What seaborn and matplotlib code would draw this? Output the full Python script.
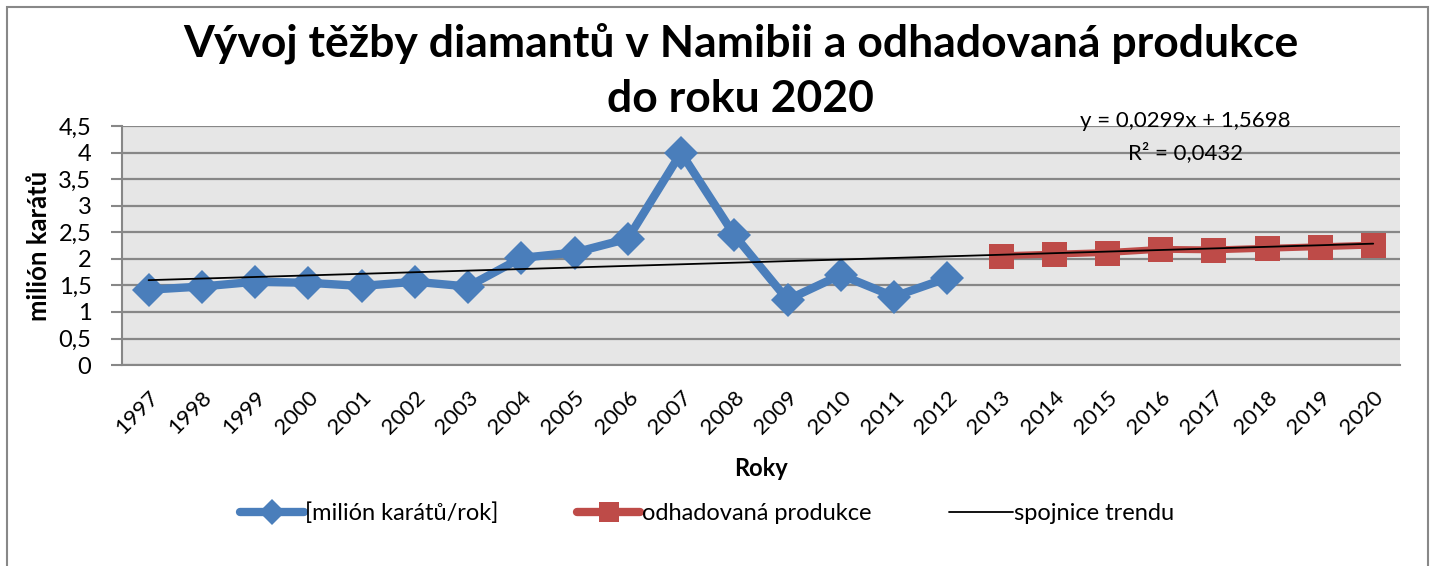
import numpy as np
import pandas as pd
import matplotlib
matplotlib.use("Agg")
import matplotlib.pyplot as plt
from matplotlib.patches import Rectangle
from matplotlib.lines import Line2D
import seaborn as sns

years = list(range(1997, 2021))
real_years = list(range(1997, 2013))
real_vals = [1.42, 1.48, 1.57, 1.55, 1.49, 1.57, 1.48, 2.02, 2.12, 2.38,
             4.0, 2.45, 1.23, 1.70, 1.29, 1.64]
est_years = list(range(2013, 2021))
est_vals = [2.06, 2.09, 2.12, 2.18, 2.17, 2.20, 2.23, 2.26]
trend_slope = 0.0299
trend_icpt = 1.5698
trend_r2 = 0.0432

sns.set_theme(style="white")
plt.rcParams['font.family'] = ['Lato', 'DejaVu Sans']
plt.rcParams['text.color'] = 'black'
plt.rcParams['axes.labelcolor'] = 'black'

blue = "#4a7ebb"
red = "#be4b48"

def cz(v):
    return f"{v:.4f}".replace(".", ",")

df_real = pd.DataFrame({"x": [years.index(y) for y in real_years], "v": real_vals})
df_est = pd.DataFrame({"x": [years.index(y) for y in est_years], "v": est_vals})
trend_x = np.arange(len(years))
df_trend = pd.DataFrame({"x": trend_x, "v": trend_slope * (trend_x + 1) + trend_icpt})

fig = plt.figure(figsize=(14.35, 5.66), dpi=100)
fig.patches.append(Rectangle((0.005, -0.02), 0.99, 1.008, transform=fig.transFigure,
                             fill=False, edgecolor="#888888", lw=1.5))
ax = fig.add_axes([0.085, 0.355, 0.8905, 0.422])
ax.set_facecolor("#e6e6e6")

sns.lineplot(data=df_real, x="x", y="v", ax=ax, color=blue, lw=6, marker="D",
             markersize=17, markeredgewidth=0)
sns.lineplot(data=df_est, x="x", y="v", ax=ax, color=red, lw=5, marker="s",
             markersize=18, markeredgewidth=0)
sns.lineplot(data=df_trend, x="x", y="v", ax=ax, color="black", lw=1.3)

ax.set_xlim(-0.5, len(years) - 0.5)
ax.set_ylim(0, 4.5)
yt = np.arange(0, 4.51, 0.5)
ax.set_yticks(yt)
ax.set_yticklabels([("%g" % t).replace(".", ",") for t in yt], fontsize=17)
ax.yaxis.grid(True, color="#878787", lw=1.6)
ax.set_axisbelow(True)
ax.set_xticks(range(len(years)))
ax.set_xticklabels([str(y) for y in years], rotation=45, ha="right",
                   rotation_mode="anchor", fontsize=16)
ax.set_xticks(np.arange(-0.5, len(years), 1), minor=True)
ax.tick_params(axis="x", which="major", length=0, pad=16, labelcolor="black")
ax.tick_params(axis="x", which="minor", length=6, color="#878787", width=1.5, direction="out")
ax.tick_params(axis="y", length=8, color="#878787", width=1.5, direction="out", left=True,
               pad=14, labelcolor="black")
for s in ["top", "right"]:
    ax.spines[s].set_visible(False)
for s in ["left", "bottom"]:
    ax.spines[s].set_color("#878787")
    ax.spines[s].set_linewidth(1.5)

ax.set_xlabel("Roky", fontsize=17, fontweight="bold", labelpad=14)
ax.set_ylabel("milión karátů", fontsize=18.5, fontweight="bold", labelpad=5)

fig.text(0.516, 1 - 57 / 566, "Vývoj těžby diamantů v Namibii a odhadovaná produkce",
         ha="center", va="baseline", fontsize=32, fontweight="bold")
fig.text(0.516, 1 - 112 / 566, "do roku 2020",
         ha="center", va="baseline", fontsize=32, fontweight="bold")
fig.text(0.826, 1 - 127 / 566, f"y = {cz(trend_slope)}x + {cz(trend_icpt)}",
         ha="center", va="baseline", fontsize=16)
fig.text(0.826, 1 - 159 / 566, f"R² = {cz(trend_r2)}",
         ha="center", va="baseline", fontsize=16)

handles = [Line2D([], [], color=blue, lw=6, marker="D", markersize=13, markeredgewidth=0),
           Line2D([], [], color=red, lw=6, marker="s", markersize=14, markeredgewidth=0),
           Line2D([], [], color="black", lw=1.3)]
ax.legend(handles, ["[milión karátů/rok]", "odhadovaná produkce", "spojnice trendu"],
          loc="center", bbox_to_anchor=(0.458, -0.62), ncol=3, frameon=False, fontsize=17,
          handlelength=2.7, handletextpad=0.05, columnspacing=3.3)

fig.savefig("out.png", dpi=100)
